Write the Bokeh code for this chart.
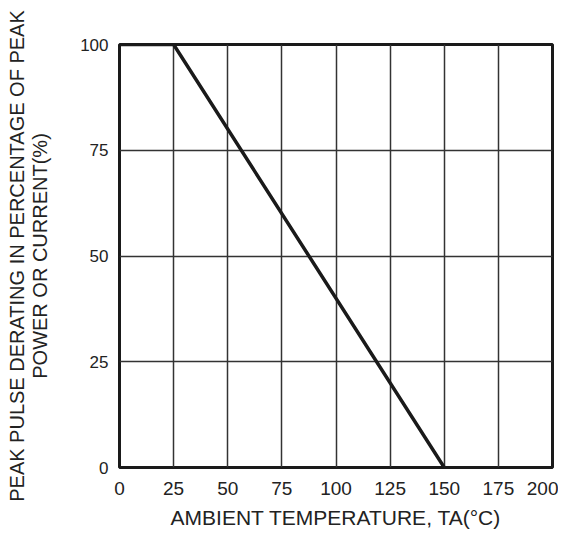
from bokeh.plotting import figure
from bokeh.models import FixedTicker, Range1d
from bokeh.embed import file_html
from bokeh.resources import INLINE

temp = [0, 25, 150]
derating = [100, 100, 0]
x_ticks = [0, 25, 50, 75, 100, 125, 150, 175, 200]
y_ticks = [0, 25, 50, 75, 100]
y_title = "PEAK PULSE DERATING IN PERCENTAGE OF PEAK\nPOWER OR CURRENT(%)"
x_title = "AMBIENT TEMPERATURE, TA(°C)"

p = figure(width=558, height=541, output_backend="svg", toolbar_location=None,
           x_range=Range1d(0, 200), y_range=Range1d(0, 100),
           min_border_left=119, min_border_right=6, min_border_top=44, min_border_bottom=74)
p.background_fill_color = "white"
p.border_fill_color = "white"
p.outline_line_color = "#1a1a1a"
p.outline_line_width = 3

for ax in (p.xaxis, p.yaxis):
    ax.axis_line_color = None
    ax.major_tick_line_color = None
    ax.minor_tick_line_color = None
    ax.major_tick_out = 0
    ax.major_tick_in = 0
    ax.major_label_text_font = "Liberation Sans"
    ax.major_label_text_color = "#222222"
    ax.axis_label_text_font = "Liberation Sans"
    ax.axis_label_text_font_style = "normal"
    ax.axis_label_text_color = "#222222"
p.xaxis.major_label_text_font_size = "19px"
p.yaxis.major_label_text_font_size = "17px"
p.xaxis.ticker = FixedTicker(ticks=x_ticks)
p.yaxis.ticker = FixedTicker(ticks=y_ticks)
p.xaxis.major_label_standoff = 14
p.yaxis.major_label_standoff = 11
p.xaxis.axis_label = x_title
p.xaxis.axis_label_text_font_size = "21px"
p.xaxis.axis_label_standoff = 8
p.yaxis.axis_label = y_title
p.yaxis.axis_label_text_font_size = "20px"
p.yaxis.axis_label_text_line_height = 1.05
p.yaxis.axis_label_standoff = 26

p.xgrid.ticker = FixedTicker(ticks=x_ticks)
p.ygrid.ticker = FixedTicker(ticks=y_ticks)
for g in (p.xgrid, p.ygrid):
    g.grid_line_color = "#333333"
    g.grid_line_width = 1.5

p.line(temp, derating, line_color="#1a1a1a", line_width=3.5)

open("out.html", "w").write(file_html(p, INLINE))
